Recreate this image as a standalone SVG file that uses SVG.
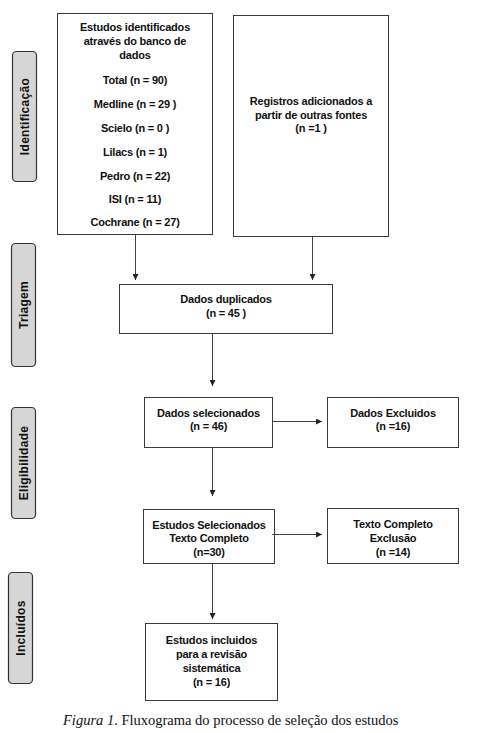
<svg xmlns="http://www.w3.org/2000/svg" width="488" height="733" viewBox="0 0 488 733">
<style>
.box{fill:#fff;stroke:#3a3a3a;stroke-width:1}
.side{fill:#d6d6d6;stroke:#333;stroke-width:1.2}
.t{font-family:"Liberation Sans",Arial,sans-serif;font-size:11px;font-weight:bold;fill:#111;text-anchor:middle;letter-spacing:-0.2px}
.s{font-family:"Liberation Sans",Arial,sans-serif;font-size:12px;font-weight:bold;fill:#111;text-anchor:middle;letter-spacing:0.3px}
.c{stroke:#444;stroke-width:1;fill:none;marker-end:url(#ah)}
.cap{font-family:"Liberation Serif","Times New Roman",serif;font-size:14.5px;fill:#111}
</style>
<defs>
<marker id="ah" viewBox="0 0 6 6" refX="6" refY="3" markerWidth="6" markerHeight="6" markerUnits="userSpaceOnUse" orient="auto">
<path d="M0,0 L6,3 L0,6 Z" fill="#222"/>
</marker>
</defs>
<rect width="488" height="733" fill="#fff"/>
<g id="side-identificacao">
<rect class="side" x="12.5" y="51.5" width="24" height="130" rx="4"/>
<text class="s" transform="translate(24.5,116.5) rotate(-90)" x="0" y="4">Identificação</text>
</g>
<g id="side-triagem">
<rect class="side" x="11.5" y="243.5" width="24" height="123" rx="4"/>
<text class="s" transform="translate(23.5,305) rotate(-90)" x="0" y="4">Triagem</text>
</g>
<g id="side-elegibilidade">
<rect class="side" x="11.5" y="407.5" width="24" height="111" rx="4"/>
<text class="s" transform="translate(23.5,463) rotate(-90)" x="0" y="4">Eligibilidade</text>
</g>
<g id="side-incluidos">
<rect class="side" x="8.5" y="572.5" width="24" height="111" rx="4"/>
<text class="s" transform="translate(20.5,628) rotate(-90)" x="0" y="4">Incluídos</text>
</g>
<g id="n-banco">
<rect class="box" x="57.5" y="13.5" width="155" height="221"/>
<text class="t" x="135" y="31">Estudos identificados</text>
<text class="t" x="135" y="45">através do banco de</text>
<text class="t" x="135" y="59">dados</text>
<text class="t" x="135" y="84">Total (n = 90)</text>
<text class="t" x="135" y="108">Medline (n = 29 )</text>
<text class="t" x="135" y="132">Scielo  (n = 0 )</text>
<text class="t" x="135" y="156">Lilacs  (n = 1)</text>
<text class="t" x="135" y="180">Pedro  (n = 22)</text>
<text class="t" x="135" y="203">ISI  (n = 11)</text>
<text class="t" x="135" y="226">Cochrane (n = 27)</text>
</g>
<g id="n-outras">
<rect class="box" x="233.5" y="15.5" width="155" height="221"/>
<text class="t" x="311" y="105">Registros adicionados a</text>
<text class="t" x="311" y="119">partir de outras fontes</text>
<text class="t" x="311" y="132">(n =1 )</text>
</g>
<g id="n-duplicados">
<rect class="box" x="119.5" y="284.5" width="213" height="49"/>
<text class="t" x="226" y="303">Dados duplicados</text>
<text class="t" x="226" y="317">(n = 45 )</text>
</g>
<g id="n-selecionados">
<rect class="box" x="144.5" y="397.5" width="128" height="50"/>
<text class="t" x="208.5" y="417">Dados selecionados</text>
<text class="t" x="208.5" y="430">(n = 46)</text>
</g>
<g id="n-excluidos">
<rect class="box" x="327.5" y="397.5" width="131" height="50"/>
<text class="t" x="393" y="417">Dados Excluidos</text>
<text class="t" x="393" y="430">(n =16)</text>
</g>
<g id="n-texto-completo">
<rect class="box" x="143.5" y="509.5" width="131" height="54"/>
<text class="t" x="209" y="529">Estudos Selecionados</text>
<text class="t" x="209" y="542">Texto Completo</text>
<text class="t" x="209" y="556">(n=30)</text>
</g>
<g id="n-exclusao">
<rect class="box" x="327.5" y="508.5" width="131" height="55"/>
<text class="t" x="393" y="528">Texto Completo</text>
<text class="t" x="393" y="542">Exclusão</text>
<text class="t" x="393" y="556">(n =14)</text>
</g>
<g id="n-incluidos">
<rect class="box" x="145.5" y="623.5" width="132" height="77"/>
<text class="t" x="211.5" y="644">Estudos incluidos</text>
<text class="t" x="211.5" y="658">para a revisão</text>
<text class="t" x="211.5" y="672">sistemática</text>
<text class="t" x="211.5" y="686">(n = 16)</text>
</g>
<g id="connectors">
<path class="c" d="M135.5,235 V280"/>
<path class="c" d="M312.5,237 V280"/>
<path class="c" d="M212.5,334 V386"/>
<path class="c" d="M212.5,448 V496"/>
<path class="c" d="M212.5,564 V619"/>
<path class="c" d="M273,421.5 H322"/>
<path class="c" d="M272,534.5 H322"/>
</g>
<text class="cap" x="63" y="725"><tspan font-style="italic">Figura 1</tspan>. Fluxograma do processo de seleção dos estudos</text>
</svg>
